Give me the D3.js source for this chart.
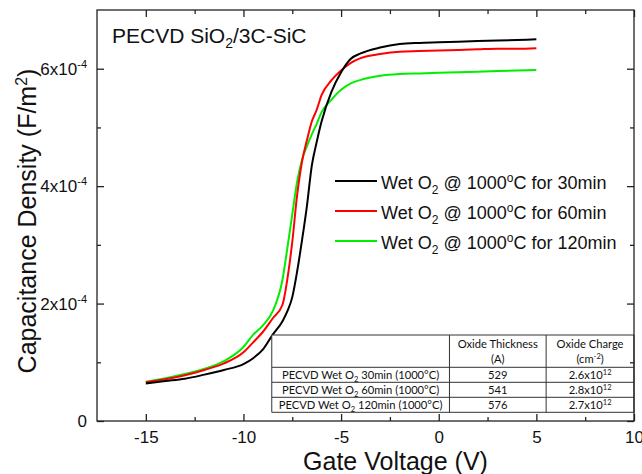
<!DOCTYPE html>
<meta charset="utf-8">
<style>
body { margin: 0; background: #fff; overflow: hidden; }
text { font-family: "Liberation Sans", Arial, sans-serif; fill: #111; }
.line { fill: none; stroke-width: 2px; }
.axis path { display: none; }
.axis line { stroke: #222; stroke-width: 1.3px; }
.tbl text { font-family: Lato, "Open Sans", sans-serif; font-size: 11.2px; }
</style>
<body>
<script src="https://d3js.org/d3.v7.min.js"></script>
<script>

// gate voltage (V), shared by the three curves
var voltage = [-15, -14, -13, -12, -11, -10, -9.5, -9, -8.5, -8, -7.75, -7.5, -7.25, -7,
  -6.75, -6.5, -6.25, -6, -5.5, -5, -4.5, -4, -3, -2, -1, 0, 1, 2, 3, 4, 5];

// capacitance density (F/m2)
var cap30 = [0.64e-4, 0.68e-4, 0.72e-4, 0.79e-4, 0.87e-4, 0.97e-4, 1.07e-4, 1.22e-4, 1.47e-4, 1.70e-4,
  1.87e-4, 2.11e-4, 2.55e-4, 3.08e-4, 3.66e-4, 4.35e-4, 4.75e-4, 5.10e-4, 5.60e-4, 5.94e-4,
  6.17e-4, 6.26e-4, 6.36e-4, 6.42e-4, 6.44e-4, 6.45e-4, 6.46e-4, 6.47e-4, 6.48e-4, 6.49e-4, 6.50e-4];
var cap60 = [0.66e-4, 0.71e-4, 0.78e-4, 0.87e-4, 0.98e-4, 1.17e-4, 1.34e-4, 1.52e-4, 1.75e-4, 1.98e-4,
  2.42e-4, 3.05e-4, 3.85e-4, 4.42e-4, 4.78e-4, 5.10e-4, 5.30e-4, 5.55e-4, 5.80e-4, 5.97e-4,
  6.10e-4, 6.18e-4, 6.25e-4, 6.29e-4, 6.30e-4, 6.31e-4, 6.32e-4, 6.33e-4, 6.34e-4, 6.34e-4, 6.35e-4];
var cap120 = [0.67e-4, 0.73e-4, 0.80e-4, 0.89e-4, 1.02e-4, 1.26e-4, 1.47e-4, 1.63e-4, 1.87e-4, 2.41e-4,
  2.95e-4, 3.52e-4, 4.08e-4, 4.45e-4, 4.68e-4, 4.88e-4, 5.06e-4, 5.26e-4, 5.47e-4, 5.64e-4,
  5.75e-4, 5.81e-4, 5.88e-4, 5.91e-4, 5.92e-4, 5.93e-4, 5.94e-4, 5.95e-4, 5.96e-4, 5.97e-4, 5.98e-4];

var seriesTimes = ["30", "60", "120"];
var seriesColors = ["#000000", "#ff0000", "#00ee00"];

var xMajor = [-15, -10, -5, 0, 5, 10];
var xMinor = [-12.5, -7.5, -2.5, 2.5, 7.5];
var yMajor = [0, 2e-4, 4e-4, 6e-4];
var yMinor = [1e-4, 3e-4, 5e-4];

// inset table
var tableHead = [["Oxide Thickness", "(A)"], ["Oxide Charge", "(cm", "-2", ")"]];
var tableTimes = ["30", "60", "120"];
var tableThickness = ["529", "541", "576"];
var tableCharge = ["2.6", "2.8", "2.7"];

var margin = {top: 10, right: 8, bottom: 53, left: 97},
    width = 642 - margin.left - margin.right,
    height = 474 - margin.top - margin.bottom;

var x = d3.scaleLinear().domain([-17.5, 10]).range([0, width]);
var y = d3.scaleLinear().domain([0, 7e-4]).range([height, 0]);

var svg = d3.select("body").append("svg")
    .attr("width", 642)
    .attr("height", 474)
  .append("g")
    .attr("transform", "translate(" + margin.left + "," + margin.top + ")");

// curves
var series = [cap30, cap60, cap120].map(function(c) {
  return voltage.map(function(v, i) { return {v: v, c: c[i]}; });
});
var valueline = d3.line()
    .x(function(d) { return x(d.v); })
    .y(function(d) { return y(d.c); })
    .curve(d3.curveMonotoneX);

// draw 120 first so black sits on top
[2, 1, 0].forEach(function(k) {
  svg.append("path")
     .datum(series[k])
     .attr("class", "line")
     .style("stroke", seriesColors[k])
     .attr("d", valueline);
});

// table
var tx = [x(-8.55), x(0.55), x(5.5), width];
var ty = [325, 357.3, 372.3, 387.3, 402.3];
var tbl = svg.append("g").attr("class", "tbl");
tbl.append("rect")
   .attr("x", tx[0]).attr("y", ty[0])
   .attr("width", tx[3] - tx[0]).attr("height", ty[4] - ty[0])
   .style("fill", "#fff");
tbl.selectAll("line.h").data(ty).enter().append("line")
   .attr("x1", tx[0]).attr("x2", tx[3])
   .attr("y1", function(d) { return d; }).attr("y2", function(d) { return d; })
   .style("stroke", "#333").style("stroke-width", 1);
tbl.selectAll("line.v").data(tx).enter().append("line")
   .attr("x1", function(d) { return d; }).attr("x2", function(d) { return d; })
   .attr("y1", ty[0]).attr("y2", ty[4])
   .style("stroke", "#333").style("stroke-width", 1);

tableHead.forEach(function(h, j) {
  var cx = (tx[j + 1] + tx[j + 2]) / 2;
  tbl.append("text").attr("x", cx).attr("y", ty[0] + 13)
     .attr("text-anchor", "middle").text(h[0]);
  var t2 = tbl.append("text").attr("x", cx).attr("y", ty[0] + 28)
     .attr("text-anchor", "middle");
  t2.append("tspan").text(h[1]);
  if (h.length > 2) {
    t2.append("tspan").attr("dy", -4).style("font-size", "7.5px").text(h[2]);
    t2.append("tspan").attr("dy", 4).text(h[3]);
  }
});

tableTimes.forEach(function(t, i) {
  var yy = (ty[i + 1] + ty[i + 2]) / 2 + 4;
  var lab = tbl.append("text").attr("x", (tx[0] + tx[1]) / 2).attr("y", yy)
     .attr("text-anchor", "middle");
  lab.append("tspan").text("PECVD Wet O");
  lab.append("tspan").attr("dy", 3).style("font-size", "7.5px").text("2");
  lab.append("tspan").attr("dy", -3).text(" " + t + "min (1000\u00b0C)");
  tbl.append("text").attr("x", (tx[1] + tx[2]) / 2).attr("y", yy)
     .attr("text-anchor", "middle").text(tableThickness[i]);
  var ch = tbl.append("text").attr("x", (tx[2] + tx[3]) / 2).attr("y", yy)
     .attr("text-anchor", "middle");
  ch.append("tspan").text(tableCharge[i] + "x10");
  ch.append("tspan").attr("dy", -4).style("font-size", "7.5px").text("12");
});

// axes with inward ticks
function minorAxis(axis, vals) {
  return axis.tickValues(vals).tickSize(-4).tickFormat("");
}

svg.append("g").attr("class", "axis")
   .attr("transform", "translate(0," + height + ")")
   .call(d3.axisBottom(x).tickValues(xMajor).tickSize(-7).tickPadding(10))
   .selectAll("text").style("font-size", "17px")
   .text(function(d) { return d < 0 ? "-" + Math.abs(d) : d; });
svg.append("g").attr("class", "axis")
   .attr("transform", "translate(0," + height + ")")
   .call(minorAxis(d3.axisBottom(x), xMinor));
svg.append("g").attr("class", "axis")
   .call(d3.axisTop(x).tickValues(xMajor).tickSize(-7).tickFormat(""));
svg.append("g").attr("class", "axis")
   .call(minorAxis(d3.axisTop(x), xMinor));

svg.append("g").attr("class", "axis")
   .call(d3.axisLeft(y).tickValues(yMajor).tickSize(-7).tickPadding(10).tickFormat(""))
   .selectAll(".tick").append("text")
   .attr("x", -10).attr("dy", "0.32em")
   .attr("text-anchor", "end")
   .style("font-size", "17px")
   .each(function(d) {
     var t = d3.select(this);
     if (d === 0) { t.text("0"); return; }
     t.append("tspan").text(Math.round(d / 1e-4) + "x10");
     t.append("tspan").attr("dy", -7).style("font-size", "11px").text("-4");
   });
svg.append("g").attr("class", "axis")
   .call(minorAxis(d3.axisLeft(y), yMinor));
svg.append("g").attr("class", "axis")
   .attr("transform", "translate(" + width + ",0)")
   .call(d3.axisRight(y).tickValues(yMajor).tickSize(-7).tickFormat(""));
svg.append("g").attr("class", "axis")
   .attr("transform", "translate(" + width + ",0)")
   .call(minorAxis(d3.axisRight(y), yMinor));

// frame
svg.append("rect")
   .attr("width", width).attr("height", height)
   .style("fill", "none").style("stroke", "#222").style("stroke-width", 1.3);

// title inside plot
var title = svg.append("text").attr("x", 15).attr("y", 33).style("font-size", "21px");
title.append("tspan").text("PECVD SiO");
title.append("tspan").attr("dy", 5).style("font-size", "14px").text("2");
title.append("tspan").attr("dy", -5).text("/3C-SiC");

// legend
var legend = svg.selectAll(".legend").data(seriesTimes).enter().append("g")
    .attr("transform", function(d, i) { return "translate(238," + (171 + i * 30) + ")"; });
legend.append("line")
    .attr("x1", 0).attr("x2", 42)
    .style("stroke", function(d, i) { return seriesColors[i]; })
    .style("stroke-width", 2);
legend.append("text")
    .attr("x", 46).attr("y", 7.5)
    .style("font-size", "18px")
    .each(function(d) {
      var t = d3.select(this);
      t.append("tspan").text("Wet O");
      t.append("tspan").attr("dy", 5).style("font-size", "12px").text("2");
      t.append("tspan").attr("dy", -5).text(" @ 1000");
      t.append("tspan").attr("dy", -7).style("font-size", "12px").text("o");
      t.append("tspan").attr("dy", 7).text("C for " + d + "min");
    });

// axis labels
svg.append("text")
    .attr("x", (width / 2) - 10 + 40)
    .attr("y", height + 49)
    .attr("text-anchor", "middle")
    .style("font-size", "25px")
    .text("Gate Voltage (V)");

var ylab = svg.append("text")
    .attr("transform", "translate(-61," + (221 - margin.top) + ") rotate(-90)")
    .attr("text-anchor", "middle")
    .style("font-size", "25px");
ylab.append("tspan").text("Capacitance Density (F/m");
ylab.append("tspan").attr("dy", -9).style("font-size", "16px").text("2");
ylab.append("tspan").attr("dy", 9).text(")");

</script>
</body>
